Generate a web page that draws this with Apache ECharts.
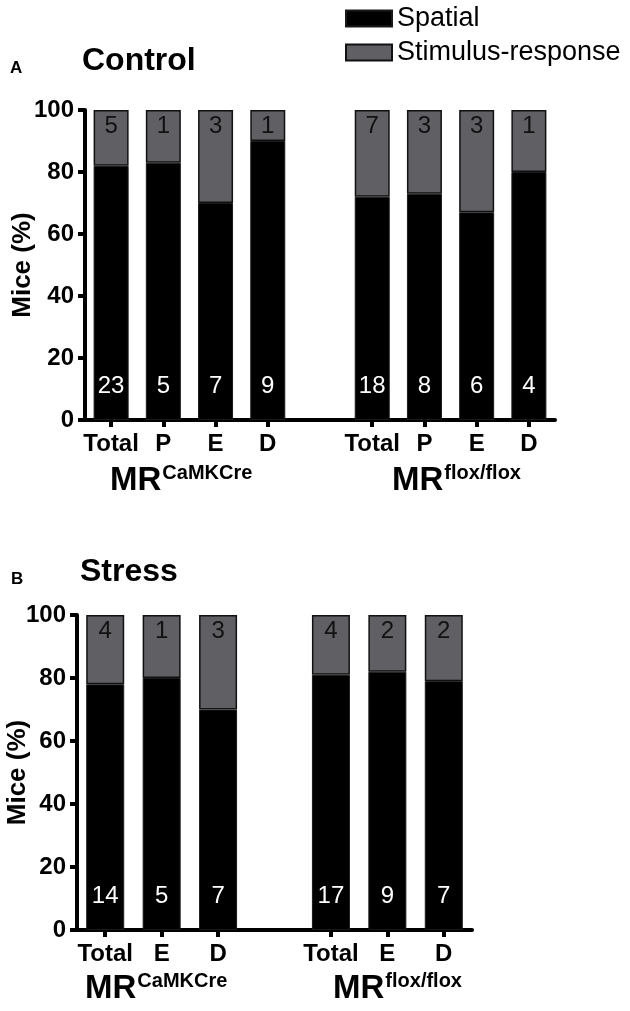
<!DOCTYPE html>
<html>
<head>
<meta charset="utf-8">
<script src="https://cdn.jsdelivr.net/npm/echarts@6/dist/echarts.min.js"></script>
<style>
  html, body { margin: 0; padding: 0; background: #fff; }
  #chart { width: 630px; height: 1011px; }
</style>
</head>
<body>
<div id="chart"></div>
<script>
// panel A (Control): '' is the gap between the two genotypes
var ctrlCats = ['Total', 'P', 'E', 'D', '', 'Total', 'P', 'E', 'D']
var ctrlSpatial = [82, 83, 70, 90, null, 72, 73, 67, 80]
var ctrlSR = [18, 17, 30, 10, null, 28, 27, 33, 20]
var ctrlSpatialN = [23, 5, 7, 9, null, 18, 8, 6, 4]
var ctrlSRN = [5, 1, 3, 1, null, 7, 3, 3, 1]

// panel B (Stress)
var stressCats = ['Total', 'E', 'D', '', 'Total', 'E', 'D']
var stressSpatial = [78, 80, 70, null, 81, 82, 79]
var stressSR = [22, 20, 30, null, 19, 18, 21]
var stressSpatialN = [14, 5, 7, null, 17, 9, 7]
var stressSRN = [4, 1, 3, null, 4, 2, 2]

var yTicks = { min: 0, max: 100, interval: 20 }

var FONT = "'Liberation Sans', Arial, sans-serif"
var BLACK = '#000000'
var GREY = '#5f5f64'

function makeY (gridIndex, nameGap) {
  return {
    type: 'value',
    gridIndex: gridIndex,
    min: yTicks.min,
    max: yTicks.max,
    interval: yTicks.interval,
    name: 'Mice (%)',
    nameLocation: 'middle',
    nameGap: nameGap,
    nameMoveOverlap: false,
    nameTextStyle: { fontFamily: FONT, fontWeight: 'bold', fontSize: 26, color: BLACK },
    axisLine: { show: true, lineStyle: { color: BLACK, width: 4 } },
    axisTick: { show: true, length: 7, lineStyle: { color: BLACK, width: 4 } },
    axisLabel: { fontFamily: FONT, fontWeight: 'bold', fontSize: 24, color: BLACK, margin: 11 },
    splitLine: { show: false }
  }
}

function makeX (gridIndex, cats) {
  return {
    type: 'category',
    gridIndex: gridIndex,
    data: cats,
    axisLine: { show: true, lineStyle: { color: BLACK, width: 4 } },
    axisTick: {
      show: true,
      alignWithLabel: true,
      length: 7,
      interval: function (i, v) { return v !== '' },
      lineStyle: { color: BLACK, width: 4 }
    },
    axisLabel: { interval: 0, fontFamily: FONT, fontWeight: 'bold', fontSize: 24, color: BLACK, margin: 12 }
  }
}

function spatialSeries (axisIndex, data, counts, width) {
  return {
    name: 'Spatial',
    type: 'bar',
    stack: 'p' + axisIndex,
    xAxisIndex: axisIndex,
    yAxisIndex: axisIndex,
    barWidth: width,
    data: data,
    itemStyle: { color: BLACK, borderColor: '#1a1a1a', borderWidth: 1 },
    label: {
      show: true,
      position: 'insideBottom',
      distance: 22,
      fontFamily: FONT,
      fontSize: 24,
      color: '#ffffff',
      formatter: function (p) { return counts[p.dataIndex] }
    }
  }
}

function srSeries (axisIndex, data, counts, width) {
  return {
    name: 'Stimulus-response',
    type: 'bar',
    stack: 'p' + axisIndex,
    xAxisIndex: axisIndex,
    yAxisIndex: axisIndex,
    barWidth: width,
    data: data,
    itemStyle: { color: GREY, borderColor: '#111111', borderWidth: 1.5 },
    label: {
      show: true,
      position: 'insideTop',
      distance: 4,
      fontFamily: FONT,
      fontSize: 24,
      color: '#111111',
      formatter: function (p) { return counts[p.dataIndex] }
    }
  }
}

// MR with superscript genotype
function mrLabel (x, y, sup) {
  return {
    type: 'text',
    left: x,
    top: y,
    style: {
      text: '{m|MR}{s|' + sup + '}',
      rich: {
        m: { fontFamily: FONT, fontWeight: 'bold', fontSize: 33, color: BLACK, verticalAlign: 'bottom', lineHeight: 36 },
        s: { fontFamily: FONT, fontWeight: 'bold', fontSize: 20, color: BLACK, verticalAlign: 'top', lineHeight: 36, padding: [2, 0, 0, 1] }
      }
    }
  }
}

function plainText (x, y, text, size) {
  return {
    type: 'text',
    left: x,
    top: y,
    style: { text: text, fontFamily: FONT, fontWeight: 'bold', fontSize: size, fill: BLACK }
  }
}

var myChart = echarts.init(document.getElementById('chart'), null, { renderer: 'canvas' })

var option = {
  backgroundColor: '#ffffff',
  animation: false,
  legend: {
    orient: 'vertical',
    left: 340,
    top: 0,
    itemWidth: 46,
    itemHeight: 16,
    itemGap: 7,
    icon: 'rect',
    data: ['Spatial', 'Stimulus-response'],
    textStyle: { fontFamily: FONT, fontSize: 27, color: BLACK }
  },
  grid: [
    { left: 85, right: 75, top: 110, bottom: 591, containLabel: false, outerBoundsMode: 'none' },
    { left: 77, right: 158, top: 615, bottom: 81, containLabel: false, outerBoundsMode: 'none' }
  ],
  xAxis: [makeX(0, ctrlCats), makeX(1, stressCats)],
  yAxis: [makeY(0, 49), makeY(1, 46)],
  series: [
    spatialSeries(0, ctrlSpatial, ctrlSpatialN, 35),
    srSeries(0, ctrlSR, ctrlSRN, 35),
    spatialSeries(1, stressSpatial, stressSpatialN, 38),
    srSeries(1, stressSR, stressSRN, 38)
  ],
  graphic: [
    plainText(10, 60, 'A', 17),
    plainText(82, 45, 'Control', 32),
    plainText(11, 571, 'B', 17),
    plainText(80, 556, 'Stress', 32),
    mrLabel(110, 461, 'CaMKCre'),
    mrLabel(392, 461, 'flox/flox'),
    mrLabel(85, 969, 'CaMKCre'),
    mrLabel(333, 969, 'flox/flox')
  ]
}

myChart.setOption(option)
</script>
</body>
</html>
